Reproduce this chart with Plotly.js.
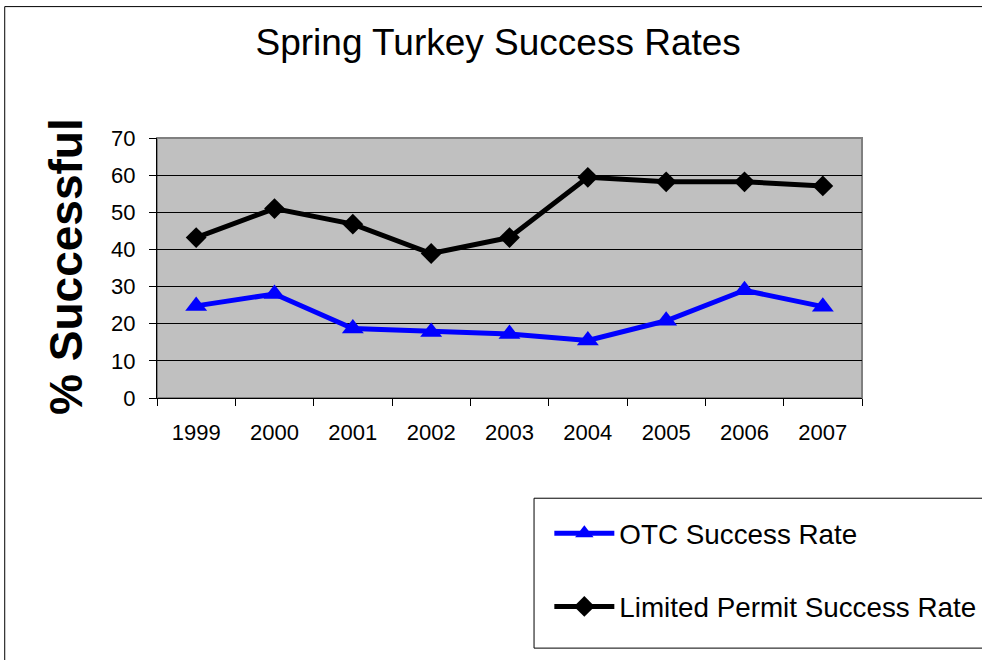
<!DOCTYPE html>
<html>
<head>
<meta charset="utf-8">
<script src="https://cdn.plot.ly/plotly-3.0.1.min.js"></script>
<style>html,body{margin:0;padding:0;background:#fff;}#chart{width:982px;height:660px;}</style>
</head>
<body>
<div id="chart"></div>
<script>
const years = ['1999','2000','2001','2002','2003','2004','2005','2006','2007'];
const otcRate = [24.8, 28.0, 18.7, 17.8, 17.2, 15.5, 20.8, 29.0, 24.6];
const limitedRate = [43.2, 51.0, 46.8, 38.9, 43.2, 59.4, 58.2, 58.2, 57.1];
const seriesNames = ['OTC Success Rate', 'Limited Permit Success Rate'];
const yTicks = [0, 10, 20, 30, 40, 50, 60, 70];
const chartTitle = 'Spring Turkey Success Rates';
const yTitle = '% Successful';

const FONT = 'Liberation Sans, Arial, sans-serif';

const traces = [
  {
    x: years, y: otcRate, name: seriesNames[0], type: 'scatter', mode: 'lines+markers',
    line: {color: '#0000FF', width: 5},
    marker: {symbol: 'triangle-up', size: 19, color: '#0000FF'},
    legendgroup: 'a'
  },
  {
    x: years, y: limitedRate, name: seriesNames[1], type: 'scatter', mode: 'lines+markers',
    line: {color: '#000000', width: 5},
    marker: {symbol: 'diamond', size: 16, color: '#000000'},
    legendgroup: 'b'
  }
];

const layout = {
  width: 982, height: 660,
  margin: {l: 157, r: 120, t: 137.5, b: 262.3, pad: 0, autoexpand: false},
  paper_bgcolor: '#ffffff',
  plot_bgcolor: '#C0C0C0',
  font: {family: FONT, color: '#000'},
  title: {
    text: chartTitle,
    font: {family: FONT, size: 37, color: '#000'},
    xref: 'paper', x: 0.484, xanchor: 'center',
    yref: 'container', y: 0.936, yanchor: 'middle'
  },
  xaxis: {
    type: 'category',
    range: [-0.5, 8.5],
    tickvals: years, ticktext: years,
    tickson: 'boundaries',
    tickangle: 0,
    ticks: 'outside', ticklen: 7, tickcolor: '#000', tickwidth: 1,
    ticklabelstandoff: 15,
    showgrid: false, zeroline: false,
    showline: true, linecolor: '#000', linewidth: 1,
    tickfont: {family: FONT, size: 22, color: '#000'},
    automargin: false,
    fixedrange: true
  },
  yaxis: {
    range: [0, 70],
    tickvals: yTicks,
    ticks: 'outside', ticklen: 7, tickcolor: '#000', tickwidth: 1,
    ticklabelstandoff: 9,
    showgrid: true, gridcolor: '#000', gridwidth: 1,
    zeroline: false,
    showline: true, linecolor: '#000', linewidth: 1,
    tickfont: {family: FONT, size: 22, color: '#000'},
    automargin: false,
    fixedrange: true
  },
  annotations: [
    {text: yTitle, xref: 'paper', yref: 'paper', x: -0.1284, y: 0.506,
     xanchor: 'center', yanchor: 'middle', textangle: -90, showarrow: false,
     font: {family: FONT, size: 46, color: '#000', weight: 'bold'}}
  ],
  showlegend: true,
  legend: {
    x: 0.5565, xanchor: 'left', y: -0.426, yanchor: 'top',
    bgcolor: 'rgba(0,0,0,0)', borderwidth: 0,
    font: {family: FONT, size: 27.8, color: '#000'},
    itemwidth: 60,
    traceorder: 'grouped',
    tracegroupgap: 34
  },
  shapes: [
    {type: 'rect', xref: 'paper', yref: 'paper', x0: -0.216, x1: 1.6, y0: -1.5, y1: 1.5054,
     line: {color: '#000', width: 1}, fillcolor: 'rgba(0,0,0,0)', layer: 'below'},
    {type: 'rect', xref: 'paper', yref: 'paper', x0: 0.5348, x1: 1.2, y0: -0.962, y1: -0.3855,
     line: {color: '#000', width: 1}, fillcolor: '#ffffff', layer: 'below'},
    {type: 'rect', xref: 'paper', yref: 'paper', x0: 0, x1: 1, y0: 0, y1: 1,
     line: {color: '#808080', width: 2}, fillcolor: 'rgba(0,0,0,0)', layer: 'below'}
  ]
};

Plotly.newPlot('chart', traces, layout, {displayModeBar: false, staticPlot: true});
</script>
</body>
</html>
